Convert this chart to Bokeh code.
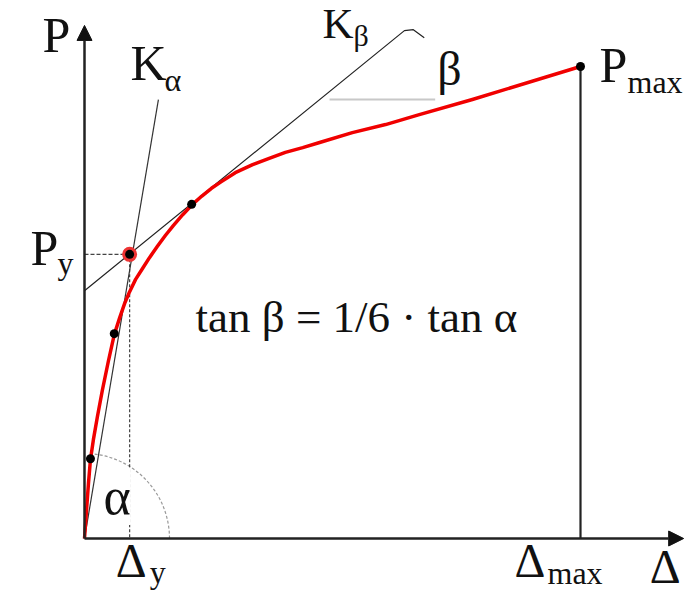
import numpy as np
from bokeh.plotting import figure
from bokeh.models import Arrow, NormalHead, Label, Range1d
from bokeh.embed import file_html
from bokeh.resources import INLINE

# load-displacement curve (delta in arbitrary units, load in % of Pmax)
delta = [0.00, 0.04, 0.08, 0.12, 0.18, 0.26, 0.36, 0.48, 0.60, 0.71, 0.81,
         0.91, 1.03, 1.17, 1.31, 1.47, 1.63, 1.79, 1.98, 2.16, 2.36, 2.56,
         2.76, 3.04, 3.39, 3.71, 4.05, 4.40, 4.74, 5.40, 6.07, 6.75, 7.82, 10.0]
load = [0.0, 5.9, 11.7, 16.7, 21.0, 25.8, 31.4, 37.5, 43.2, 46.8, 49.8,
        52.3, 54.9, 57.2, 59.5, 61.9, 64.2, 66.3, 68.6, 70.6, 72.5, 74.2,
        75.6, 77.5, 79.2, 80.5, 81.8, 82.8, 83.9, 86.0, 87.7, 89.8, 93.0, 100.0]

# marked points on the curve
dot_delta = [0.12, 0.60, 2.16, 10.0]
dot_load = [16.9, 43.4, 70.8, 100.0]

# yield point (intersection of the two stiffness lines)
delta_y = 0.91
p_y = 60.2
delta_max = 10.0
p_max = 100.0

# stiffness lines K_alpha and K_beta (with its small leader)
ka_delta = [0.0, 1.49]
ka_load = [0.0, 93.0]
kb_delta = [0.0, 6.45, 6.63, 6.85]
kb_load = [52.5, 107.6, 107.8, 106.1]

# horizontal reference for the angle beta
beta_delta = [4.94, 7.07]
beta_load = [93.0, 93.0]

# axis ends
x_tip = 12.08
y_tip = 108.7

# --- layout: 49.6 px per delta unit, 4.72 px per load unit
W, H = 684, 592
sx, sy = 49.6, 4.72
ox, oy = 84, 54
p = figure(width=W, height=H, output_backend="svg", toolbar_location=None,
           x_axis_type=None, y_axis_type=None, min_border=0,
           x_range=Range1d(-ox / sx, (W - ox) / sx),
           y_range=Range1d(-oy / sy, (H - oy) / sy))
p.outline_line_color = None
p.background_fill_color = "white"

FONT = "Liberation Serif"

# angle arc alpha
p.arc(x=[0], y=[0], radius=85, radius_units="screen", start_angle=0,
      end_angle=np.arctan2(79, 6), line_color="#9a9a9a", line_width=1.2,
      line_dash="3 2")

# dashed guides to the yield point
p.line([0, delta_y], [p_y, p_y], line_color="#444444", line_width=1.2, line_dash="4 2")
p.line([delta_y, delta_y], [p_y, 0], line_color="#444444", line_width=1.2, line_dash="3 2")

# beta reference line
p.line(beta_delta, beta_load, line_color="#c8c8c8", line_width=2)

# stiffness lines
p.line(ka_delta, ka_load, line_color="#333333", line_width=1.2)
p.line(kb_delta, kb_load, line_color="#222222", line_width=1.2)

# vertical at delta_max
p.line([delta_max, delta_max], [0, p_max], line_color="#222222", line_width=2.2)

# axes with arrow heads
for xe, ye in [(x_tip, 0), (0, y_tip)]:
    p.add_layout(Arrow(end=NormalHead(size=15, fill_color="#111111", line_color="#111111"),
                       x_start=0, y_start=0, x_end=xe, y_end=ye,
                       line_color="#222222", line_width=2.5))

# curve
p.line(delta, load, line_color="#f00000", line_width=3.5, line_join="round")

# points
p.scatter([delta_y], [p_y], size=15, fill_color="#ee3333", line_color=None)
p.scatter(dot_delta + [delta_y], dot_load + [p_y], size=9, fill_color="black",
          line_color=None)


def lab(text, x, y, dx, dy, size, bg=None):
    # labels sit about 0.4 em low with the alphabetic baseline, compensate
    kw = dict(x=x, y=y, x_offset=dx, y_offset=dy + round(0.4 * size), text=text,
              text_font=FONT, text_font_size=f"{size}px", text_color="#111111",
              text_baseline="alphabetic")
    if bg:
        kw["background_fill_color"] = bg
    p.add_layout(Label(**kw))


BIG, SUB = 50, 32
lab("P", 0, y_tip, -42, -30, BIG)
lab("K", ka_delta[1], ka_load[1], -28, 17, BIG)
lab("α", ka_delta[1], ka_load[1], 6, 7, SUB)
lab("K", kb_delta[1], kb_load[1], -82, -10, 43)
lab("β", kb_delta[1], kb_load[1], -51, -17, 30)
lab("β", beta_delta[1], beta_load[1], 2, 12, 48)
lab("P", delta_max, p_max, 19, -18, BIG)
lab("max", delta_max, p_max, 47, -28, SUB)
lab("P", 0, p_y, -54, -14, BIG)
lab("y", 0, p_y, -27, -22, SUB)
lab("tan β = 1/6 · tan α", 2.24, 43.2, 0, 0, 45)
lab("α", 0, 0, 19, 21, 52, bg="white")
lab("Δ", delta_y, 0, -14, -41, 48)
lab("y", delta_y, 0, 20, -46, SUB)
lab("Δ", delta_max, 0, -66, -41, 48)
lab("max", delta_max, 0, -33, -47, SUB)
lab("Δ", x_tip, 0, -34, -47, 48)

open("out.html", "w").write(file_html(p, INLINE))
